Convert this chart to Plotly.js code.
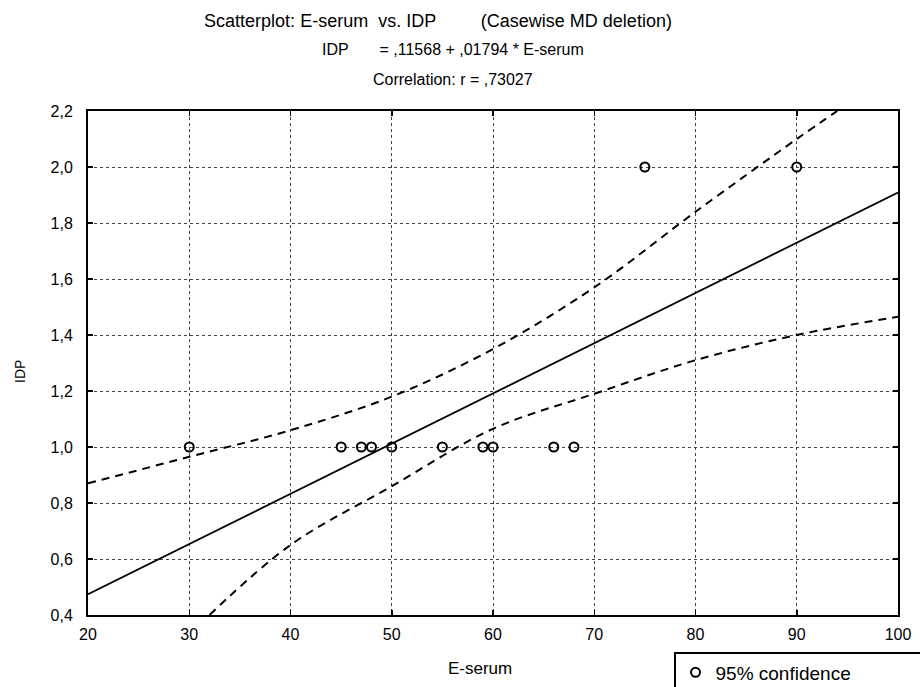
<!DOCTYPE html>
<html>
<head>
<meta charset="utf-8">
<script src="https://cdn.plot.ly/plotly-3.0.1.min.js"></script>
<style>html,body{margin:0;padding:0;background:#fff;}#chart{width:920px;height:687px;}</style>
</head>
<body>
<div id="chart"></div>
<script>
// Observed data
const eSerum = [30, 45, 47, 48, 50, 55, 59, 60, 66, 68, 75, 90];
const idp    = [1.0, 1.0, 1.0, 1.0, 1.0, 1.0, 1.0, 1.0, 1.0, 1.0, 2.0, 2.0];

// Regression line (IDP = ,11568 + ,01794 * E-serum) read at the axis ends
const fitX = [20, 100];
const fitY = [0.474, 1.909];

// 95% confidence bands
const upperX = [20, 30, 40, 50, 60, 70, 80, 90, 94];
const upperY = [0.87, 0.965, 1.06, 1.18, 1.35, 1.57, 1.84, 2.10, 2.2];
const lowerX = [32, 40, 50, 60, 70, 80, 90, 100];
const lowerY = [0.40, 0.65, 0.86, 1.065, 1.19, 1.31, 1.40, 1.465];

const xTicks = [20, 30, 40, 50, 60, 70, 80, 90, 100];
const yTicks = [0.4, 0.6, 0.8, 1.0, 1.2, 1.4, 1.6, 1.8, 2.0, 2.2];

const titleLines = [
  'Scatterplot: E-serum  vs. IDP         (Casewise MD deletion)',
  'IDP       = ,11568 + ,01794 * E-serum',
  'Correlation: r = ,73027'
];

const FONT = "Liberation Sans, Arial, sans-serif";
const TFONT = {family: FONT, size: 16, color: '#000'};

// pixel -> paper helpers for text placement (plot area 88..898 x 111..615)
const px = v => (v - 88) / 810;
const py = v => (615 - v) / 504;

const traces = [
  {x: upperX, y: upperY, mode: 'lines', line: {color: '#000', width: 2, dash: '8px,6px', shape: 'spline'}, showlegend: false, hoverinfo: 'skip'},
  {x: lowerX, y: lowerY, mode: 'lines', line: {color: '#000', width: 2, dash: '8px,6px', shape: 'spline'}, showlegend: false, hoverinfo: 'skip'},
  {x: fitX, y: fitY, mode: 'lines', line: {color: '#000', width: 1.8}, showlegend: false},
  {x: eSerum, y: idp, mode: 'markers', name: '95% confidence',
   marker: {symbol: 'circle-open', size: 9, color: '#000', line: {width: 2, color: '#000'}}, showlegend: true}
];

const axisCommon = {
  showline: true, linecolor: '#000', linewidth: 2, mirror: 'ticks',
  ticks: 'inside', ticklen: 5, tickcolor: '#000', tickwidth: 1.5,
  showgrid: true, gridcolor: '#444', gridwidth: 1, griddash: 'dot',
  zeroline: false, tickfont: {family: FONT, size: 16, color: '#000'}
};

const layout = {
  width: 920, height: 687,
  margin: {l: 88, r: 22, t: 111, b: 72},
  paper_bgcolor: '#fff', plot_bgcolor: '#fff',
  separators: ',.',
  font: {family: FONT, color: '#000'},
  title: {
    text: titleLines[0], font: {family: FONT, size: 18, color: '#000'},
    x: 438 / 920, xref: 'container', xanchor: 'center',
    y: 1 - 21 / 687, yref: 'container', yanchor: 'middle'
  },
  annotations: [
    {text: titleLines[1], xref: 'paper', yref: 'paper', x: px(453), y: py(50),
     xanchor: 'center', yanchor: 'middle', showarrow: false, font: TFONT},
    {text: titleLines[2], xref: 'paper', yref: 'paper', x: px(453), y: py(79),
     xanchor: 'center', yanchor: 'middle', showarrow: false, font: TFONT},
    {text: 'E-serum', xref: 'paper', yref: 'paper', x: px(480), y: py(668),
     xanchor: 'center', yanchor: 'middle', showarrow: false, font: {family: FONT, size: 17, color: '#000'}},
    {text: 'IDP', xref: 'paper', yref: 'paper', x: px(20), y: py(372), textangle: -90,
     xanchor: 'center', yanchor: 'middle', showarrow: false, font: {family: FONT, size: 14, color: '#000'}}
  ],
  xaxis: Object.assign({}, axisCommon, {
    range: [20, 100], tickvals: xTicks, ticktext: xTicks.map(String),
    ticklabelstandoff: 4
  }),
  yaxis: Object.assign({}, axisCommon, {
    range: [0.4, 2.2], tickvals: yTicks, tickformat: '.1f',
    ticklabelstandoff: 10
  }),
  legend: {
    xref: 'container', yref: 'container',
    x: 674 / 920, xanchor: 'left', y: 1 - 652 / 687, yanchor: 'top',
    orientation: 'h', entrywidth: 200,
    bordercolor: '#000', borderwidth: 1.5, bgcolor: '#fff',
    font: {family: FONT, size: 19, color: '#000'}
  }
};

Plotly.newPlot('chart', traces, layout, {displayModeBar: false, staticPlot: true});
</script>
</body>
</html>
